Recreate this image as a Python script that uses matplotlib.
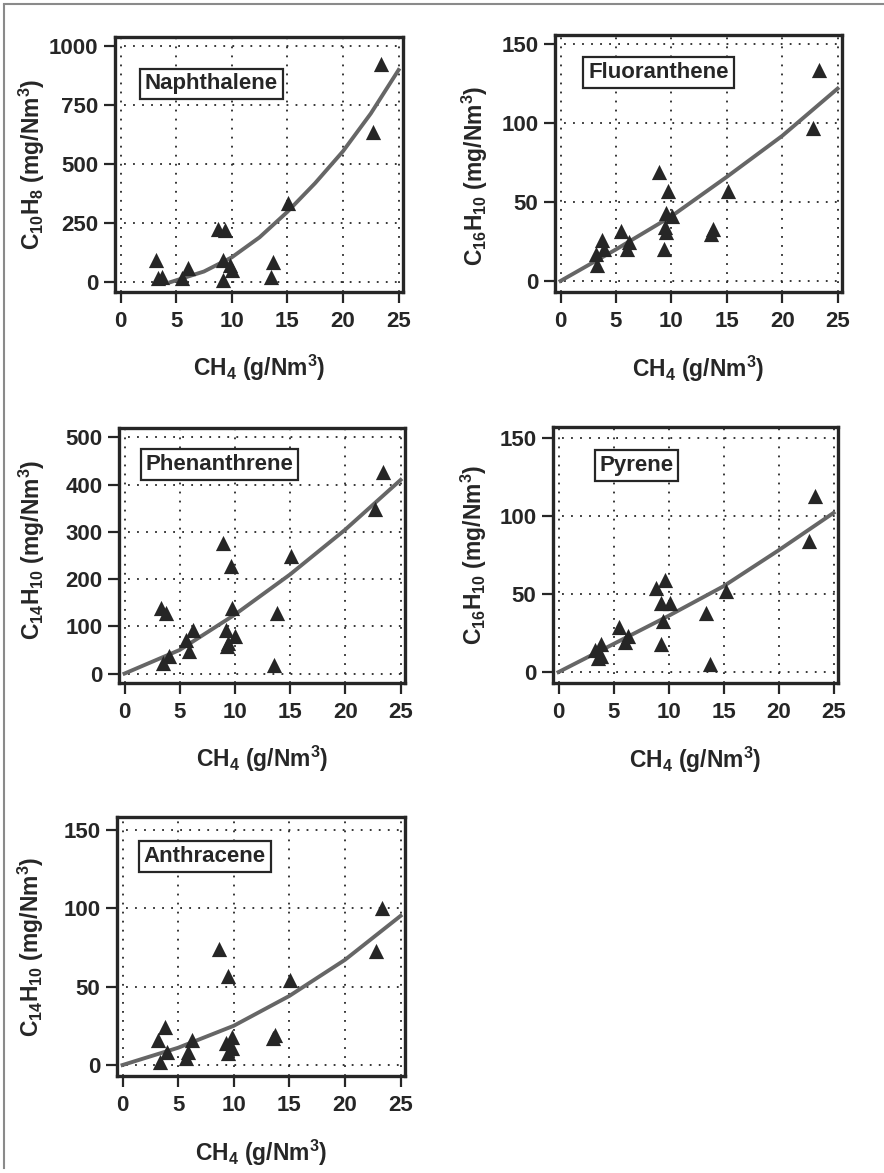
import matplotlib.pyplot as plt
from matplotlib.lines import Line2D

plt.rcParams['font.family'] = ['Liberation Sans', 'DejaVu Sans']
plt.rcParams['mathtext.fontset'] = 'custom'
plt.rcParams['mathtext.rm'] = 'Liberation Sans:bold'
plt.rcParams['mathtext.bf'] = 'Liberation Sans:bold'
plt.rcParams['mathtext.default'] = 'bf'

ink = '#262626'

# CH4 (g/Nm3) vs PAH (mg/Nm3)
naph_x = [3.2, 3.4, 3.7, 5.5, 6.1, 8.8, 9.4, 9.2, 9.2, 9.8, 10.0, 13.7, 13.5, 15.1, 22.7, 23.4]
naph_y = [93, 16, 23, 16, 58, 227, 220, 93, 8, 72, 51, 86, 23, 336, 637, 927]
naph_fit_x = [4.5, 7.5, 10, 12.5, 15, 17.5, 20, 22.5, 25]
naph_fit_y = [0, 45, 105, 190, 298, 420, 555, 715, 900]

fluor_x = [3.3, 3.2, 3.7, 3.9, 5.5, 6.0, 6.2, 8.9, 9.3, 9.5, 9.5, 9.7, 10.1, 9.4, 13.6, 13.8, 15.1, 22.8, 23.3]
fluor_y = [10, 17, 26, 20, 32, 20, 25, 69, 20, 43, 31, 57, 41, 34, 30, 33, 57, 97, 134]
fluor_fit_x = [0, 5, 10, 15, 20, 25]
fluor_fit_y = [0, 20, 41, 66, 92, 122]

phen_x = [3.3, 3.8, 3.5, 4.0, 5.8, 5.6, 6.2, 8.9, 9.6, 9.7, 9.2, 9.4, 9.3, 10.0, 13.8, 13.5, 15.1, 22.7, 23.4]
phen_y = [139, 129, 23, 37, 47, 72, 93, 277, 228, 139, 93, 65, 58, 79, 129, 19, 249, 348, 426]
phen_fit_x = [0, 5, 10, 15, 20, 25]
phen_fit_y = [0, 50, 125, 210, 305, 410]

pyr_x = [3.3, 3.6, 3.9, 3.9, 5.5, 6.0, 6.3, 8.9, 9.7, 9.3, 10.1, 9.5, 9.3, 13.4, 13.8, 15.2, 22.8, 23.3]
pyr_y = [14, 9, 18, 10, 29, 19, 23, 54, 59, 44, 44, 33, 18, 38, 5, 52, 84, 113]
pyr_fit_x = [0, 5, 10, 15, 20, 25]
pyr_fit_y = [0, 18, 36, 55, 78, 102]

anth_x = [3.8, 3.2, 3.4, 4.0, 5.9, 5.7, 6.2, 8.7, 9.5, 9.3, 9.8, 9.5, 9.8, 13.7, 13.5, 15.1, 22.8, 23.3]
anth_y = [24.5, 16, 2, 8.5, 8.5, 4.3, 16, 73.6, 56.5, 13.9, 18.1, 7.5, 10.7, 19.2, 17.1, 54.4, 72.5, 100.3]
anth_fit_x = [0, 5, 10, 15, 20, 25]
anth_fit_y = [0, 11, 25, 44, 67, 95]

x_ticks = [0, 5, 10, 15, 20, 25]

W, H = 884, 1173
fig = plt.figure(figsize=(W / 100, H / 100), dpi=100)
fig.patch.set_facecolor('white')


def px_axes(left, right, top, bottom):
    return fig.add_axes([left / W, 1 - bottom / H, (right - left) / W, (bottom - top) / H])


def panel(ax, x, y, fx, fy, name, ylabel, yticks, ylim, box_xy, ylab_xy):
    ax.set_xlim(-0.5, 25.4)
    ax.set_ylim(*ylim)
    ax.set_xticks(x_ticks)
    ax.set_yticks(yticks)
    ax.grid(True, linestyle=(0, (1, 4)), color=ink, linewidth=1.3)
    ax.set_axisbelow(True)
    ax.plot(fx, fy, color='#666666', linewidth=2.8, zorder=2)
    ax.scatter(x, y, marker='^', s=120, color=ink, linewidths=0, zorder=3)
    for s in ax.spines.values():
        s.set_linewidth(2.4)
        s.set_color(ink)
    ax.tick_params(direction='out', length=8, width=1.6, color=ink,
                   labelsize=16, labelcolor=ink, top=False, right=False)
    ax.tick_params(axis='x', pad=6)
    ax.tick_params(axis='y', pad=4)
    for lab in ax.get_xticklabels() + ax.get_yticklabels():
        lab.set_fontweight('bold')
    ax.set_xlabel('CH$_4$ (g/Nm$^3$)', fontsize=16.5, fontweight='bold', color=ink)
    ax.xaxis.set_label_coords(0.5, -0.24)
    ax.set_ylabel(ylabel, fontsize=16.5, fontweight='bold', color=ink)
    ax.yaxis.set_label_coords(*ylab_xy)
    ax.text(box_xy[0], box_xy[1], name, transform=ax.transAxes, ha='center', va='center',
            fontsize=16, fontweight='bold', color=ink, zorder=5,
            bbox=dict(boxstyle='square,pad=0.22', fc='white', ec=ink, lw=1.6))


ax1 = px_axes(115, 403, 37, 292)
panel(ax1, naph_x, naph_y, naph_fit_x, naph_fit_y, 'Naphthalene',
      'C$_{10}$H$_8$ (mg/Nm$^3$)', [0, 250, 500, 750, 1000], (-42, 1040),
      (0.335, 0.816), (-0.236, 0.5))

ax2 = px_axes(555, 842, 35, 292)
panel(ax2, fluor_x, fluor_y, fluor_fit_x, fluor_fit_y, 'Fluoranthene',
      'C$_{16}$H$_{10}$ (mg/Nm$^3$)', [0, 50, 100, 150], (-7, 156),
      (0.361, 0.854), (-0.226, 0.45))

ax3 = px_axes(119, 405, 428, 683)
panel(ax3, phen_x, phen_y, phen_fit_x, phen_fit_y, 'Phenanthrene',
      'C$_{14}$H$_{10}$ (mg/Nm$^3$)', [0, 100, 200, 300, 400, 500], (-20, 520),
      (0.352, 0.856), (-0.25, 0.52))

ax4 = px_axes(553, 838, 427, 683)
panel(ax4, pyr_x, pyr_y, pyr_fit_x, pyr_fit_y, 'Pyrene',
      'C$_{16}$H$_{10}$ (mg/Nm$^3$)', [0, 50, 100, 150], (-7, 157),
      (0.293, 0.851), (-0.226, 0.5))

ax5 = px_axes(117, 405, 817, 1076)
panel(ax5, anth_x, anth_y, anth_fit_x, anth_fit_y, 'Anthracene',
      'C$_{14}$H$_{10}$ (mg/Nm$^3$)', [0, 50, 100, 150], (-7, 158),
      (0.305, 0.848), (-0.245, 0.5))

# page border from the scan
fig.add_artist(Line2D([4 / W, 4 / W], [1 - 5 / H, 1 - 1168 / H], color='#8a8a8a', lw=1.5))
fig.add_artist(Line2D([4 / W, 1.0], [1 - 4 / H, 1 - 4 / H], color='#8a8a8a', lw=1.5))

fig.savefig('out.png', dpi=100)
